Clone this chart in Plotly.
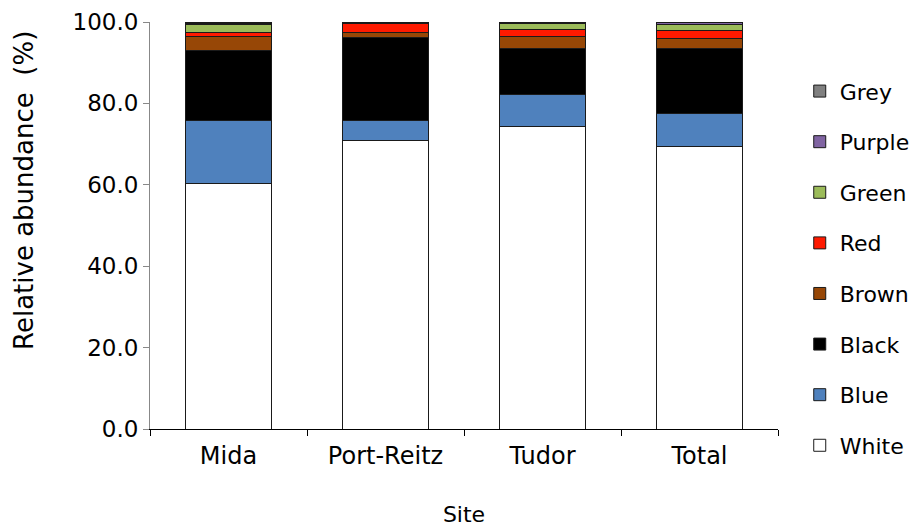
import plotly.graph_objects as go

sites = ["Mida", "Port-Reitz", "Tudor", "Total"]
colour_names = ["White", "Blue", "Black", "Brown", "Red", "Green", "Purple", "Grey"]
white = [60.2, 70.8, 74.3, 69.5]
blue = [15.5, 4.9, 7.8, 8.1]
black = [17.3, 20.5, 11.4, 15.9]
brown = [3.4, 1.3, 2.9, 2.4]
red = [1.0, 2.1, 1.8, 2.0]
green = [2.0, 0.3, 1.4, 1.6]
purple = [0.3, 0.1, 0.2, 0.3]
grey = [0.3, 0.0, 0.2, 0.2]
series = [white, blue, black, brown, red, green, purple, grey]
fills = ["#FFFFFF", "#4F81BD", "#000000", "#974706", "#FF1A00", "#9BBB59", "#8064A2", "#808080"]

fig = go.Figure()
n = len(colour_names)
for i, (name, vals, col) in enumerate(zip(colour_names, series, fills)):
    fig.add_trace(go.Bar(
        x=sites, y=vals, name=name, legendgroup=name,
        legendrank=1000 + (n - i),
        marker=dict(color=col, line=dict(color="#1a1a1a", width=1)),
    ))

FONT = "DejaVu Sans, Liberation Sans, Arial, sans-serif"
fig.update_layout(
    barmode="stack",
    bargap=0.45,
    width=909, height=519,
    margin=dict(l=142, r=139, t=14, b=98),
    plot_bgcolor="white", paper_bgcolor="white",
    font=dict(family=FONT, size=22, color="black"),
    legend=dict(
        traceorder="grouped", tracegroupgap=19,
        xref="container", yref="container",
        x=0.871, xanchor="left", y=0.88, yanchor="top",
        font=dict(size=22), itemwidth=30, maxheight=1.0,
    ),
    xaxis=dict(
        title=dict(text="Site", standoff=40, font=dict(size=22)),
        tickfont=dict(size=24), automargin=False, ticklabelstandoff=5,
        showline=True, linecolor="black", linewidth=1,
        ticks="outside", ticklen=6, tickcolor="black",
        tickson="boundaries",
    ),
    yaxis=dict(
        tickfont=dict(size=23), automargin=False,
        range=[0, 100], dtick=20, tickformat=".1f",
        showline=True, linecolor="#888888", linewidth=1,
        ticks="outside", ticklen=6, tickcolor="#888888",
        showgrid=False, zeroline=False,
    ),
    annotations=[dict(
        text="Relative abundance  (%)", textangle=-90,
        xref="paper", yref="paper", x=-0.2006, y=0.585,
        xanchor="center", yanchor="middle", showarrow=False,
        font=dict(size=26),
    )],
)

fig.write_html("out.html")
